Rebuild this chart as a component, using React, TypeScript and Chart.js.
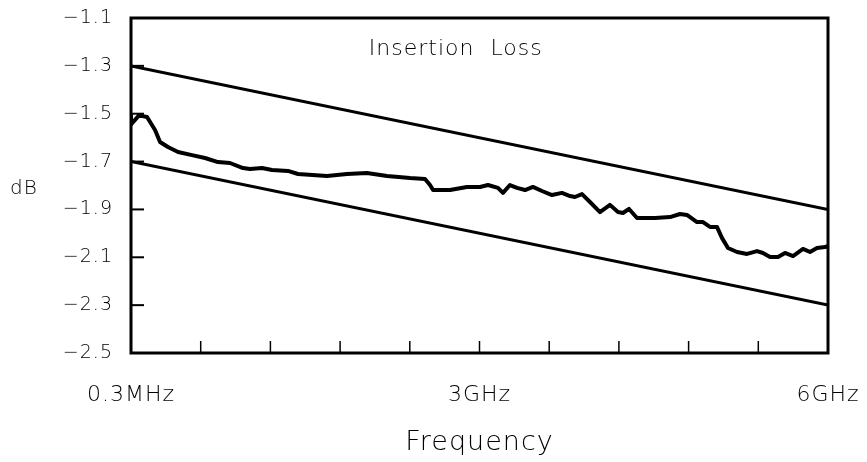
import { useEffect, useRef } from "react";
import { Chart, registerables } from "chart.js";

Chart.register(...registerables);

// Measured insertion loss (frequency in GHz, loss in dB)
const freqGHz = [
  0, 0, 0.069, 0.138, 0.207, 0.25, 0.318, 0.405, 0.525, 0.637, 0.749, 0.852, 0.964, 1.024,
  1.128, 1.214, 1.351, 1.438, 1.687, 1.859, 2.031, 2.204, 2.402, 2.531, 2.574, 2.6, 2.746,
  2.892, 3.004, 3.073, 3.159, 3.202, 3.262, 3.323, 3.392, 3.46, 3.538, 3.624, 3.71, 3.779,
  3.822, 3.882, 3.951, 4.037, 4.123, 4.192, 4.235, 4.287, 4.356, 4.511, 4.64, 4.726, 4.786,
  4.872, 4.924, 4.984, 5.044, 5.087, 5.139, 5.217, 5.303, 5.389, 5.44, 5.501, 5.57, 5.63,
  5.699, 5.785, 5.845, 5.905, 5.974, 6.0,
];
const insertionLossDb = [
  -1.507, -1.545, -1.507, -1.514, -1.568, -1.618, -1.639, -1.66, -1.673, -1.685, -1.702,
  -1.706, -1.727, -1.731, -1.727, -1.735, -1.739, -1.752, -1.76, -1.752, -1.748, -1.76,
  -1.769, -1.773, -1.798, -1.819, -1.819, -1.806, -1.806, -1.798, -1.81, -1.831, -1.798,
  -1.81, -1.819, -1.806, -1.823, -1.84, -1.831, -1.844, -1.848, -1.836, -1.869, -1.911,
  -1.881, -1.911, -1.915, -1.898, -1.936, -1.936, -1.932, -1.919, -1.923, -1.953, -1.953,
  -1.973, -1.973, -2.019, -2.061, -2.078, -2.086, -2.074, -2.082, -2.099, -2.099, -2.082,
  -2.095, -2.065, -2.078, -2.061, -2.057, -2.053,
];

// Limit lines
const limitFreqGHz = [0, 6];
const upperLimitDb = [-1.3, -1.9];
const lowerLimitDb = [-1.7, -2.3];

// Axes
const xMin = 0;
const xMax = 6;
const xStep = 0.6;
const xLabelValues = [0, 3, 6];
const xLabelTexts = ["0.3MHz", "3GHz", "6GHz"];
const yMin = -2.5;
const yMax = -1.1;
const yStep = 0.2;

const chartTitle = "Insertion  Loss";
const yTitle = "dB";
const xTitle = "Frequency";

const FONT = "'DejaVu Sans', sans-serif";
const WEIGHT = "200";

const toPoints = (xs: number[], ys: number[]) => xs.map((x, i) => ({ x, y: ys[i] }));

const framePlugin = {
  id: "frame",
  beforeDraw(chart: any) {
    const ctx = chart.ctx;
    ctx.save();
    ctx.fillStyle = "#ffffff";
    ctx.fillRect(0, 0, chart.width, chart.height);
    ctx.restore();
    ctx.letterSpacing = "1px";
  },
  afterDraw(chart: any) {
    const ctx = chart.ctx;
    const { left, right, top, bottom } = chart.chartArea;
    const xs = chart.scales.x;
    const ys = chart.scales.y;
    ctx.save();
    ctx.strokeStyle = "#000";
    // inward tick marks
    ctx.lineWidth = 1.5;
    xs.ticks.forEach((t: any) => {
      const px = xs.getPixelForValue(t.value);
      if (px <= left + 2 || px >= right - 2) return;
      ctx.beginPath();
      ctx.moveTo(px, bottom);
      ctx.lineTo(px, bottom - 12);
      ctx.stroke();
    });
    ctx.lineWidth = 2;
    ys.ticks.forEach((t: any) => {
      const py = ys.getPixelForValue(t.value);
      if (py <= top + 2 || py >= bottom - 2) return;
      ctx.beginPath();
      ctx.moveTo(left, py);
      ctx.lineTo(left + 13, py);
      ctx.stroke();
    });
    // frame
    ctx.lineWidth = 3;
    ctx.strokeRect(left, top, right - left, bottom - top);
    // texts
    ctx.fillStyle = "#000";
    ctx.textAlign = "center";
    ctx.textBaseline = "middle";
    ctx.font = `${WEIGHT} 22px ${FONT}`;
    ctx.fillText(chartTitle, left + (right - left) * 0.466, top + 31);
    ctx.font = `${WEIGHT} 20px ${FONT}`;
    ctx.fillText(yTitle, 24, (top + bottom) / 2 + 3);
    ctx.restore();
    ctx.letterSpacing = "0px";
  },
};

export default function App() {
  const ref = useRef<HTMLCanvasElement | null>(null);
  useEffect(() => {
    if (!ref.current) return;
    const chart = new Chart(ref.current, {
      type: "line",
      data: {
        datasets: [
          {
            data: toPoints(limitFreqGHz, upperLimitDb),
            borderColor: "#000",
            borderWidth: 3,
            pointRadius: 0,
            tension: 0,
          },
          {
            data: toPoints(limitFreqGHz, lowerLimitDb),
            borderColor: "#000",
            borderWidth: 3,
            pointRadius: 0,
            tension: 0,
          },
          {
            data: toPoints(freqGHz, insertionLossDb),
            borderColor: "#000",
            borderWidth: 4,
            pointRadius: 0,
            tension: 0,
            borderJoinStyle: "round",
          },
        ],
      },
      options: {
        responsive: false,
        animation: false,
        parsing: false,
        layout: { padding: { left: 0, right: 39, top: 18, bottom: 0 } },
        plugins: {
          legend: { display: false },
          tooltip: { enabled: false },
          title: { display: false },
        },
        scales: {
          x: {
            type: "linear",
            min: xMin,
            max: xMax,
            grid: { display: false, drawTicks: false },
            border: { display: false },
            ticks: {
              stepSize: xStep,
              autoSkip: false,
              maxRotation: 0,
              padding: 29,
              color: "#000",
              font: { family: FONT, size: 22, weight: WEIGHT },
              callback: (v: any) => {
                const i = xLabelValues.findIndex((lv) => Math.abs(lv - Number(v)) < 1e-6);
                return i >= 0 ? xLabelTexts[i] : "";
              },
            },
            title: {
              display: true,
              text: xTitle,
              color: "#000",
              font: { family: FONT, size: 27, weight: WEIGHT },
              padding: { top: 0, bottom: 3 },
            },
            afterFit: (s: any) => {
              s.height = 109;
              s.paddingLeft = 0;
              s.paddingRight = 0;
            },
          },
          y: {
            type: "linear",
            min: yMin,
            max: yMax,
            grid: { display: false, drawTicks: false },
            border: { display: false },
            ticks: {
              stepSize: yStep,
              autoSkip: false,
              padding: 18,
              color: "#000",
              font: { family: FONT, size: 19, weight: WEIGHT },
              callback: (v: any) => {
                const n = Number(v);
                return (n < 0 ? "\u2212" : "") + Math.abs(n).toFixed(1);
              },
            },
            afterFit: (s: any) => {
              s.width = 131;
              s.paddingTop = 0;
              s.paddingBottom = 0;
            },
          },
        },
      },
      plugins: [framePlugin],
    });
    return () => chart.destroy();
  }, []);
  return (
    <div style={{ position: "absolute", left: 0, top: 0, width: 867, height: 462 }}>
      <canvas ref={ref} width={867} height={462} style={{ display: "block" }} />
    </div>
  );
}
